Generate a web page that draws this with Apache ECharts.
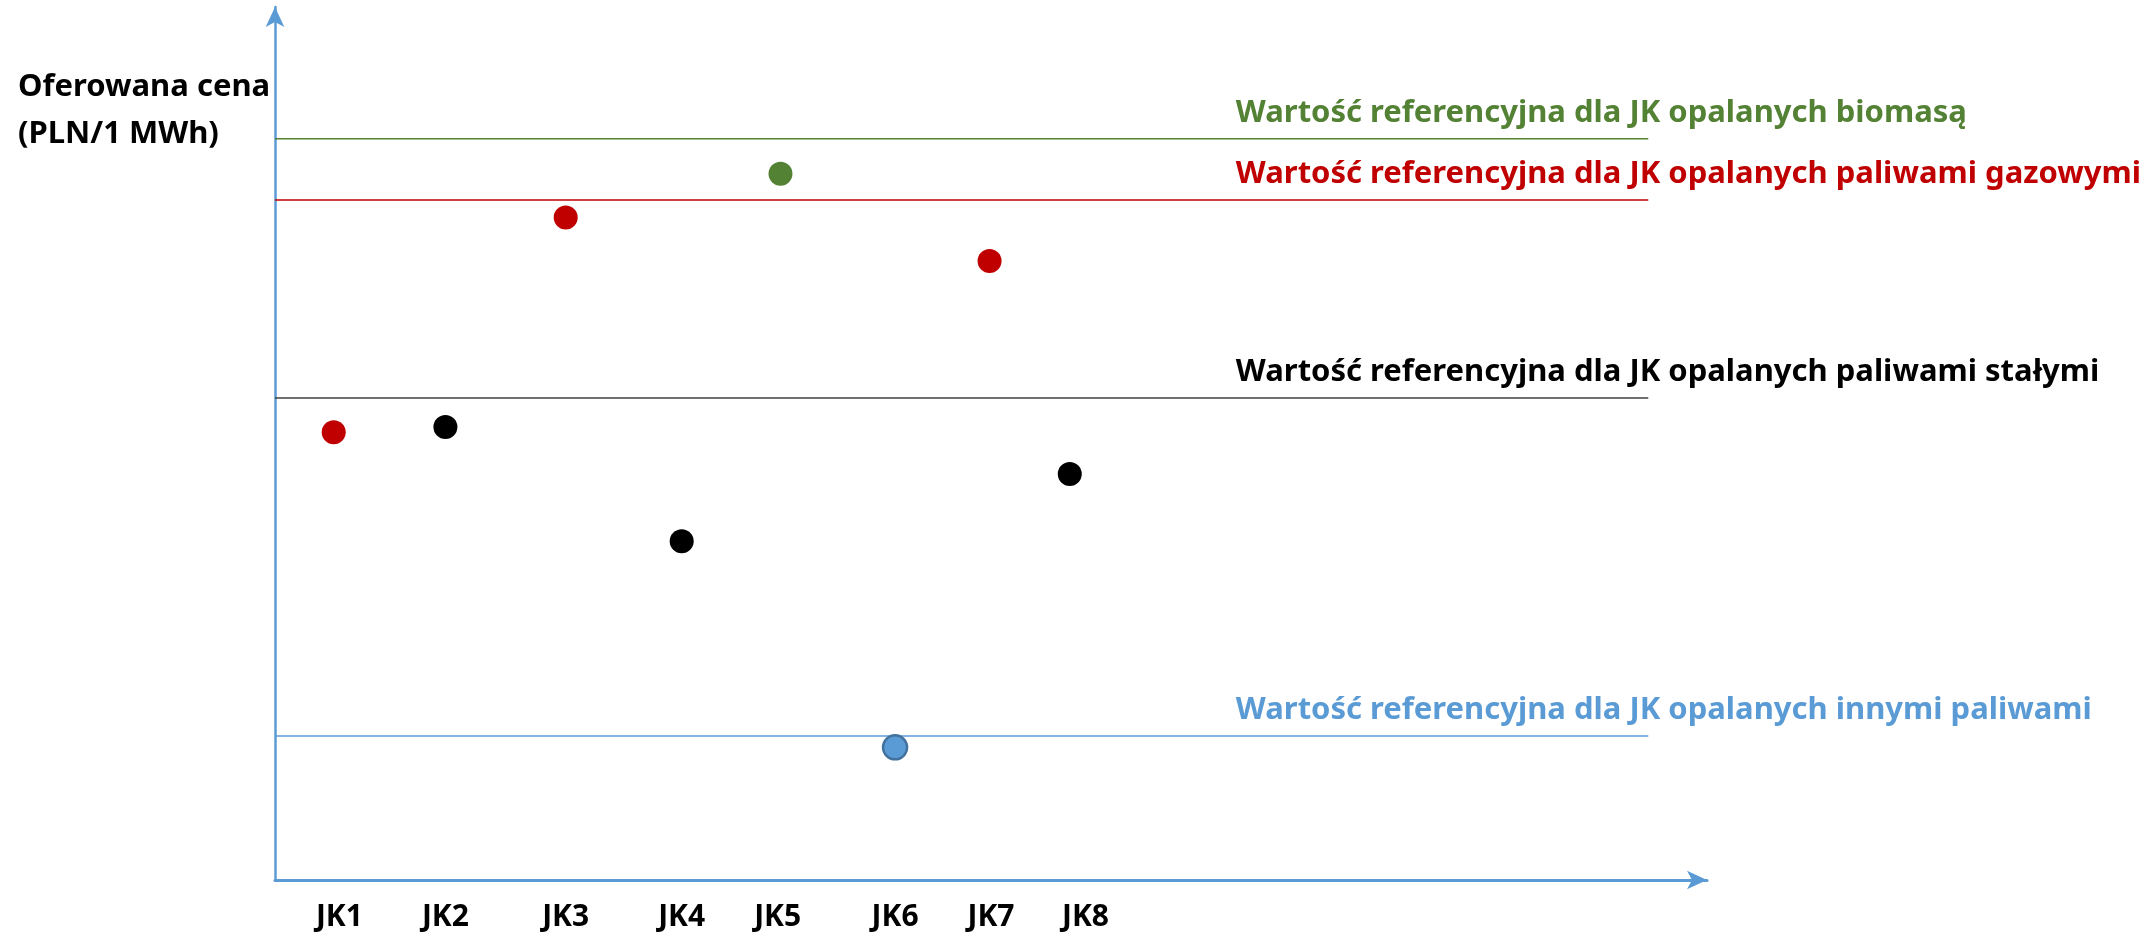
<!DOCTYPE html>
<html><head><meta charset="utf-8">
<script src="https://cdn.jsdelivr.net/npm/echarts@6/dist/echarts.min.js"></script>
<style>html,body{margin:0;padding:0;background:#fff}#c{width:2153px;height:936px}</style>
</head><body><div id="c"></div>
<script>
// Units (JK) and their offered prices (arbitrary scale, axis 0..100)
const units = ['JK1','JK2','JK3','JK4','JK5','JK6','JK7','JK8'];
const unitX = [4.1, 11.9, 20.3, 28.4, 35.3, 43.3, 49.9, 55.5];
const labelX = [4.5, 11.9, 20.3, 28.4, 35.1, 43.3, 50.0, 56.6];
const prices = [51.3, 51.9, 75.9, 38.8, 80.9, 15.2, 70.9, 46.5];
const fuel = ['gas','solid','gas','solid','biomass','other','gas','solid'];

const refNames = ['biomass','gas','solid','other'];
const refValues = [84.9, 77.9, 55.2, 16.5];
const refLabels = [
  'Wartość referencyjna dla JK opalanych biomasą',
  'Wartość referencyjna dla JK opalanych paliwami gazowymi',
  'Wartość referencyjna dla JK opalanych paliwami stałymi',
  'Wartość referencyjna dla JK opalanych innymi paliwami'
];
const refLineEnd = 95.9;
const refLabelX = 67.1;

const lineColors = {biomass:'#548235', gas:'#C00000', solid:'#404040', other:'#5B9BD5'};
const textColors = {biomass:'#548235', gas:'#C00000', solid:'#000000', other:'#5B9BD5'};
const dotColors = {biomass:'#548235', gas:'#C00000', solid:'#000000', other:'#5B9BD5'};

const FONT = '"Noto Sans", "Open Sans", sans-serif';
const axisColor = '#5B9BD5';

const series = [];
refNames.forEach((k, i) => {
  series.push({
    type: 'line', silent: true, symbol: 'none', z: 2,
    lineStyle: {color: lineColors[k], width: 1.5, opacity: 1},
    data: [[0, refValues[i]], [refLineEnd, refValues[i]]]
  });
  series.push({
    type: 'scatter', silent: true, symbolSize: 0, z: 3,
    itemStyle: {opacity: 1},
    label: {show: true, position: 'top', align: 'left', distance: 10,
      formatter: refLabels[i], color: textColors[k], fontFamily: FONT,
      fontWeight: 'bold', fontSize: 31, opacity: 1},
    data: [[refLabelX, refValues[i]]]
  });
});
series.push({
  type: 'scatter', z: 5, symbol: 'circle', symbolSize: 24,
  itemStyle: {opacity: 1},
  data: units.map((u, i) => ({
    value: [unitX[i], prices[i]], name: u,
    itemStyle: {color: dotColors[fuel[i]], opacity: 1,
      borderColor: fuel[i] === 'other' ? '#41719C' : dotColors[fuel[i]],
      borderWidth: fuel[i] === 'other' ? 2.5 : 0}
  }))
});

const chart = echarts.init(document.getElementById('c'));
chart.setOption({
  animation: false,
  backgroundColor: '#fff',
  title: {
    text: 'Oferowana cena\n(PLN/1 MWh)', left: 13, top: 59,
    textStyle: {fontFamily: FONT, fontWeight: 'bold', fontSize: 31, lineHeight: 47, color: '#000'}
  },
  grid: {left: 275, top: 7, width: 1432, bottom: 56},
  xAxis: {
    type: 'value', min: 0, max: 100,
    axisLine: {show: true, lineStyle: {color: axisColor, width: 3},
      symbol: ['none', 'arrow'], symbolSize: [14, 20]},
    axisTick: {show: false},
    splitLine: {show: false},
    axisLabel: {
      customValues: labelX, margin: 22,
      formatter: v => { const i = labelX.findIndex(x => Math.abs(x - v) < 1e-6); return i >= 0 ? units[i] : ''; },
      color: '#000', fontFamily: FONT, fontWeight: 'bold', fontSize: 30
    }
  },
  yAxis: {
    type: 'value', min: 0, max: 100,
    axisLine: {show: true, lineStyle: {color: axisColor, width: 2.5},
      symbol: ['none', 'arrow'], symbolSize: [14, 20]},
    axisTick: {show: false}, axisLabel: {show: false}, splitLine: {show: false}
  },
  series
});
</script></body></html>
